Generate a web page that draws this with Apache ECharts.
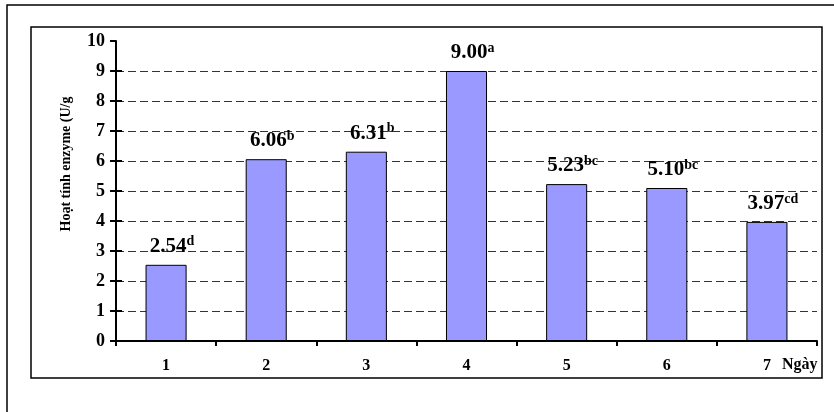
<!DOCTYPE html>
<html>
<head>
<meta charset="utf-8">
<script src="https://cdn.jsdelivr.net/npm/echarts@6/dist/echarts.min.js"></script>
<style>html,body{margin:0;padding:0;background:#fff}#c{width:834px;height:412px}</style>
</head>
<body>
<div id="c"></div>
<script>
const categories = ['1', '2', '3', '4', '5', '6', '7'];
const values = [2.54, 6.06, 6.31, 9.00, 5.23, 5.10, 3.97];
const letters = ['d', 'b', 'b', 'a', 'bc', 'bc', 'cd'];
const yTicks = [0, 1, 2, 3, 4, 5, 6, 7, 8, 9, 10];
const innerTicks = [1, 2, 3, 4, 5, 6, 7, 8, 9];
const yTitle = 'Hoạt tính enzyme (U/g';
const xTitle = 'Ngày';

const serif = '"Liberation Serif", "Times New Roman", serif';
const chart = echarts.init(document.getElementById('c'));
chart.setOption({
  animation: false,
  backgroundColor: '#fff',
  grid: { left: 116, right: 17, top: 41, bottom: 71, containLabel: false },
  xAxis: {
    type: 'category',
    data: categories,
    boundaryGap: true,
    axisLine: { lineStyle: { color: '#000', width: 2 } },
    axisTick: { show: true, inside: false, length: 5, alignWithLabel: false, lineStyle: { color: '#000', width: 2 } },
    axisLabel: { color: '#000', fontFamily: serif, fontWeight: 'bold', fontSize: 16, margin: 17 }
  },
  yAxis: [{
    type: 'value',
    min: yTicks[0],
    max: yTicks[yTicks.length - 1],
    interval: 1,
    axisLine: { show: true, lineStyle: { color: '#000', width: 2 } },
    axisTick: { show: true, length: 6, lineStyle: { color: '#000', width: 2 } },
    axisLabel: { color: '#000', fontFamily: serif, fontWeight: 'bold', fontSize: 18, margin: 11 },
    splitLine: { show: true, showMinLine: false, showMaxLine: false, lineStyle: { color: '#333', width: 1, type: [8, 4] } }
  }, {
    type: 'value',
    position: 'left',
    min: yTicks[0],
    max: yTicks[yTicks.length - 1],
    interval: 1,
    axisLine: { show: false },
    axisTick: { show: true, inside: true, length: 6, customValues: innerTicks, lineStyle: { color: '#000', width: 2 } },
    axisLabel: { show: false },
    splitLine: { show: false }
  }],
  series: [{
    type: 'bar',
    data: values,
    barWidth: '41%',
    itemStyle: { color: '#9999FF', borderColor: '#000', borderWidth: 1 },
    label: {
      show: true,
      position: 'top',
      distance: 7,
      offset: [6, 0],
      formatter: (p) => '{v|' + p.value.toFixed(2) + '}{s|' + letters[p.dataIndex] + '}',
      rich: {
        v: { fontFamily: serif, fontWeight: 'bold', fontSize: 21, color: '#000' },
        s: { fontFamily: serif, fontWeight: 'bold', fontSize: 14, color: '#000', verticalAlign: 'top', padding: [0, 0, 9, 0] }
      }
    }
  }],
  graphic: [
    { type: 'rect', shape: { x: 7, y: 5, width: 900, height: 500 }, style: { fill: 'none', stroke: '#000', lineWidth: 1.5 }, silent: true, z: -1 },
    { type: 'rect', shape: { x: 31, y: 27, width: 791, height: 351 }, style: { fill: 'none', stroke: '#000', lineWidth: 1.5 }, silent: true, z: -1 },
    { type: 'text', x: 66, y: 164, rotation: Math.PI / 2,
      style: { text: yTitle, fill: '#000', font: 'bold 14px ' + serif, textAlign: 'center', textVerticalAlign: 'middle' } },
    { type: 'text', x: 782, y: 365,
      style: { text: xTitle, fill: '#000', font: 'bold 16px ' + serif, textAlign: 'left', textVerticalAlign: 'middle' } }
  ]
});
</script>
</body>
</html>
